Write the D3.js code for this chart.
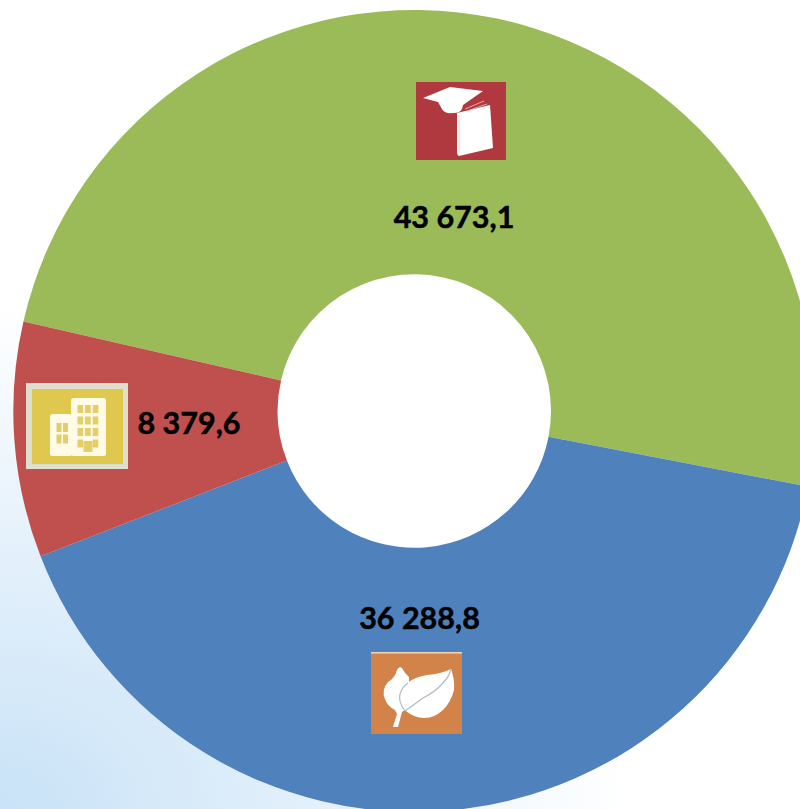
<!DOCTYPE html>
<html><head><meta charset="utf-8">
<script src="https://cdn.jsdelivr.net/npm/d3@7"></script>
<style>html,body{margin:0;padding:0;background:#fff;overflow:hidden}svg{display:block}</style>
</head><body><svg id="c" width="800" height="809"></svg>
<script>
const categories = ["Education","Environment","Buildings"];
const values = [43673.1, 36288.8, 8379.6];
const labels = ["43 673,1","36 288,8","8 379,6"];
const colors = ["#9BBB59","#4F81BD","#C0504D"];

const W=800,H=809,cx=414.3,cy=411,R=401,r=136.7;
const svg=d3.select("#c");
const defs=svg.append("defs");
const g=defs.append("radialGradient").attr("id","bg").attr("gradientUnits","userSpaceOnUse")
 .attr("cx",0).attr("cy",0).attr("r",1).attr("gradientTransform","translate(0,815) scale(630,510)");
g.append("stop").attr("offset",0).attr("stop-color","#c8e2f7");
g.append("stop").attr("offset",0.5).attr("stop-color","#e3f0fb");
g.append("stop").attr("offset",1).attr("stop-color","#ffffff");
defs.append("filter").attr("id","soft").attr("x","-5%").attr("y","-5%").attr("width","110%").attr("height","110%")
 .append("feGaussianBlur").attr("stdDeviation",0.6);
svg.append("rect").attr("width",W).attr("height",H).attr("fill","url(#bg)");

const pie=d3.pie().sort(null).value(d=>d).startAngle(-77.1*Math.PI/180).endAngle((360-77.1)*Math.PI/180);
const arc=d3.arc().innerRadius(r).outerRadius(R);
const chart=svg.append("g").attr("transform",`translate(${cx},${cy})`);
chart.append("circle").attr("r",r+1).attr("fill","#fff");
chart.selectAll("path.s").data(pie(values)).join("path").attr("class","s")
 .attr("d",arc).attr("fill",(d,i)=>colors[i]);

// value labels
const labelPos=[[454,228],[419.5,629],[189,434]];
svg.selectAll("text.v").data(labels).join("text").attr("class","v")
 .attr("x",(d,i)=>labelPos[i][0]).attr("y",(d,i)=>labelPos[i][1])
 .attr("text-anchor","middle").attr("font-family","Lato, 'Open Sans', sans-serif")
 .attr("font-weight",700).attr("font-size",30.5).attr("fill","#000")
 .attr("stroke","#000").attr("stroke-width",0.5).text(d=>d);

// icon: graduation cap and book
const i1=svg.append("g").attr("transform","translate(416,82)");
i1.append("rect").attr("width",90).attr("height",78).attr("fill","#B0393F");
const i1g=i1.append("g").attr("filter","url(#soft)");
i1g.append("path").attr("fill","#fff").attr("d","M7,16 L34,5 L67,9 L47,23 L46,27 Q44,31 38,31 Q28,32 26,27 L22,20 Z");
i1g.append("path").attr("fill","#fff").attr("d","M41,31 L74,23 L77,66 L43,74 Q41,73 41,70 Z");
i1g.append("path").attr("fill","none").attr("stroke","#d8d8d8").attr("stroke-width",1).attr("d","M43,33 L43,73");
i1g.append("path").attr("fill","none").attr("stroke","#e8a8a8").attr("stroke-width",1).attr("d","M49,27 L68,19 M51,29 L71,22");

// icon: buildings
const i2=svg.append("g").attr("transform","translate(26,383)");
i2.append("rect").attr("width",102).attr("height",86).attr("fill","#DDDFCF");
i2.append("rect").attr("x",6).attr("y",6).attr("width",91).attr("height",75).attr("fill","#E0C84E");
const i2g=i2.append("g").attr("filter","url(#soft)");
i2g.append("rect").attr("x",45).attr("y",15).attr("width",35).attr("height",58).attr("rx",2.5).attr("fill","#FFFBE6");
i2g.append("rect").attr("x",24).attr("y",31).attr("width",22).attr("height",42).attr("rx",2.5).attr("fill","#FFFBE6");
const win=i2g.append("g").attr("fill","#E3CE6A");
d3.range(4).forEach(a=>d3.range(3).forEach(b=>{ if(a==3&&b==1)return;
  win.append("rect").attr("x",51.5+b*7.6).attr("y",22+a*11.5).attr("width",5.6).attr("height",8);
}));
d3.range(2).forEach(a=>d3.range(2).forEach(b=>{
  win.append("rect").attr("x",30.5+b*6.5).attr("y",40+a*11.5).attr("width",5).attr("height",9);
}));
win.append("rect").attr("x",57.5).attr("y",58).attr("width",9).attr("height",11);

// icon: leaves
const i3=svg.append("g").attr("transform","translate(371,652)");
i3.append("rect").attr("width",91).attr("height",82).attr("fill","#D2834A");
i3.append("rect").attr("width",91).attr("height",1.5).attr("fill","#F4D3B4");
const i3g=i3.append("g").attr("filter","url(#soft)");
i3g.append("path").attr("fill","#fff").attr("d","M22,75 L26,62 L24,58 Q16,54 14,47 Q10,38 17,30 Q24,26 26,18 Q28,14 31,16 Q34,22 38,25 L38,55 L31,60 L27,75 Z");
i3g.append("path").attr("fill","#fff").attr("d","M35,59 Q29,52 28,45 Q29,36 36,31 Q44,25 56,23 Q70,22 80,17 Q84,28 83,38 Q80,50 72,58 Q62,67 52,66 Q42,65 35,59 Z");
i3g.append("path").attr("fill","none").attr("stroke","#B3BABF").attr("stroke-width",1.2).attr("d","M34,59 Q44,52 52,46 Q64,40 72,31 Q78,25 80,17 M34,59 Q27,50 29,42 Q31,35 37,31");
</script></body></html>
